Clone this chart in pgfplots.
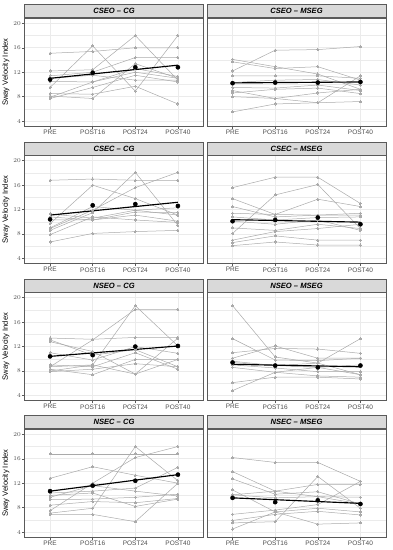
\documentclass[border=0pt]{standalone}
\usepackage{pgfplots}
\pgfplotsset{compat=1.18}
\usepackage{pgfplotstable}
\usepackage{fontspec}
\setmainfont{Liberation Sans}
\setsansfont{Liberation Sans}
\definecolor{subjgray}{RGB}{170,170,170}
\definecolor{gridgray}{RGB}{235,235,235}
\definecolor{bordergray}{RGB}{90,90,90}
\definecolor{stripfill}{RGB}{217,217,217}
\definecolor{ticklab}{RGB}{77,77,77}

% rows: time points (1=PRE,2=POST16,3=POST24,4=POST40); columns: subjects, m = mean
\pgfplotstableread{
t s1 s2 s3 s4 s5 s6 s7 s8 s9 s10 m
1 15.1 9.5 12.2 11.4 8.1 10.5 7.7 8.5 11.0 7.9 10.8
2 15.4 16.3 12.4 12.0 7.7 10.4 9.5 8.4 11.5 10.4 11.9
3 16.0 8.9 18.0 14.4 13.4 12.6 11.5 9.7 10.7 12.0 12.8
4 16.0 18.0 10.7 14.4 11.0 11.3 10.4 6.8 10.7 11.0 12.8
}\tA
\pgfplotstableread{
t s1 s2 s3 s4 s5 s6 s7 s8 s9 s10 m
1 12.2 14.1 13.7 11.4 10.3 9.5 8.6 8.0 5.5 9.0 10.2
2 15.6 12.9 12.6 11.4 10.7 9.4 9.2 7.7 6.8 7.7 10.3
3 15.7 11.7 12.9 11.4 10.8 9.9 9.4 8.6 7.0 7.0 10.3
4 16.2 9.2 10.7 11.0 9.9 9.0 8.5 9.2 7.2 11.4 10.4
}\tB
\pgfplotstableread{
t s1 s2 s3 s4 s5 s6 s7 s8 s9 s10 m
1 16.8 9.7 8.6 8.9 11.3 10.8 10.3 6.7 7.9 9.0 10.4
2 17.0 16.0 11.5 11.9 10.6 10.3 10.3 8.1 10.8 12.5 12.7
3 16.8 13.8 18.1 15.6 11.9 11.6 11.1 8.4 10.3 11.9 12.9
4 16.8 11.1 9.4 18.1 12.3 11.5 10.1 8.6 9.9 11.1 12.6
}\tC
\pgfplotstableread{
t s1 s2 s3 s4 s5 s6 s7 s8 s9 s10 s11 m
1 15.6 8.1 13.8 12.5 11.4 10.8 10.1 9.0 7.0 6.6 6.1 10.1
2 17.3 14.4 11.2 10.8 11.2 10.3 9.6 8.6 8.4 7.7 6.7 10.3
3 17.3 16.1 13.7 11.1 11.1 10.7 10.3 9.6 8.9 7.0 6.2 10.7
4 13.0 8.9 12.5 11.4 11.1 10.8 8.6 8.9 9.6 7.0 6.2 9.6
}\tD
\pgfplotstableread{
t s1 s2 s3 s4 s5 s6 s7 s8 s9 s10 m
1 13.4 8.7 8.0 12.8 13.1 11.0 9.0 8.3 7.9 8.7 10.4
2 13.2 13.1 9.0 11.2 10.6 9.8 8.7 7.4 8.3 9.0 10.6
3 13.5 18.1 18.7 7.5 11.5 12.0 11.0 9.9 9.2 7.5 12.0
4 13.5 18.1 12.1 9.9 8.7 10.9 8.3 9.9 8.7 13.4 12.1
}\tE
\pgfplotstableread{
t s1 s2 s3 s4 s5 s6 s7 s8 s9 s10 m
1 18.7 13.3 11.0 10.1 9.6 9.0 8.6 6.1 4.8 9.4 9.4
2 10.3 9.8 11.7 12.1 8.9 8.5 7.8 7.0 7.8 8.9 8.9
3 9.3 9.7 11.6 10.1 8.6 7.9 7.2 7.0 8.6 9.3 8.6
4 7.4 10.1 10.9 10.1 9.0 7.9 7.0 6.7 7.4 13.3 8.9
}\tF
\pgfplotstableread{
t s1 s2 s3 s4 s5 s6 s7 s8 s9 s10 m
1 16.8 12.8 7.1 7.5 10.4 9.7 9.3 8.4 6.9 10.0 10.7
2 16.8 14.7 7.9 12.0 10.7 11.6 9.4 9.0 6.9 10.4 11.6
3 16.8 13.3 18.0 16.2 11.2 10.7 9.7 8.8 5.7 8.2 12.4
4 16.8 12.0 12.4 18.0 14.6 9.9 10.2 9.5 12.0 9.4 13.4
}\tG
\pgfplotstableread{
t s1 s2 s3 s4 s5 s6 s7 s8 s9 s10 m
1 16.2 13.9 12.7 5.5 10.1 6.9 10.9 5.9 4.5 10.1 9.6
2 15.4 10.7 10.2 5.7 9.6 7.6 7.3 6.9 7.3 10.7 8.9
3 15.4 11.8 10.6 13.1 9.8 8.5 7.9 7.4 5.3 9.8 9.2
4 12.3 11.8 8.6 7.9 9.7 12.3 7.3 6.8 5.5 8.6 8.6
}\tH

\pgfplotsset{
  panel/.style={
    scale only axis, width=179pt, height=108.4pt,
    xmin=0.4, xmax=4.6, ymin=3.13, ymax=20.87,
    xtick={1,2,3,4}, xticklabels={PRE,POST16,POST24,POST40},
    ytick={4,8,12,16,20}, minor ytick={6,10,14,18},
    grid=both,
    major grid style={draw=gridgray, line width=0.55pt},
    minor grid style={draw=gridgray, line width=0.3pt},
    axis line style={draw=bordergray, line width=0.6pt},
    tick pos=left, tick align=outside,
    major tick length=2.5pt, minor tick length=0pt,
    tick style={draw=bordergray, line width=0.5pt},
    tick label style={font=\fontsize{6.5}{7}\selectfont, text=ticklab},
    xticklabel style={inner sep=1pt, anchor=north},
    yticklabel style={inner sep=1pt, anchor=east},
    every axis title/.style={at={(0.5,1)}, anchor=south, fill=stripfill,
      draw=bordergray, line width=0.6pt, minimum width=179pt, minimum height=13pt,
      inner sep=0pt, font=\fontsize{7.6}{8}\selectfont\bfseries\itshape},
    every axis y label/.style={at={(axis description cs:-0.1034,0.5)}, rotate=90,
      anchor=center, font=\fontsize{7.6}{8}\selectfont},
  },
  subj/.style={color=subjgray, line width=0.5pt, mark=*, mark size=1.05pt,
    mark options={fill=subjgray, draw=subjgray, line width=0pt}},
  fitline/.style={black, line width=1.15pt, no marks},
  meanpt/.style={black, only marks, mark=*, mark size=2.1pt},
  leftcol/.style={ylabel={Sway Velocity Index}},
  rightcol/.style={yticklabels={}, ytick style={draw=none}},
}

\newcommand{\panel}[7]{%
  \begin{axis}[panel, at={(#1)}, anchor=south west, title={#4}, #7]
    \pgfplotsinvokeforeach{1,...,#3}{\addplot[subj] table[x=t,y=s##1]{#2};}
    \addplot[fitline] coordinates {#5};
    \addplot[meanpt] table[x=t,y=m]{#2};
  \end{axis}}

\begin{document}
\begin{tikzpicture}
\useasboundingbox (0,0) rectangle (392pt,550pt);
\panel{24.5pt,423.6pt}{\tA}{10}{CSEO – CG}{(1,11.0) (4,13.15)}{}{leftcol}
\panel{207pt,423.6pt}{\tB}{10}{CSEO – MSEG}{(1,10.25) (4,10.4)}{}{rightcol}
\panel{24.5pt,286.2pt}{\tC}{10}{CSEC – CG}{(1,11.1) (4,13.2)}{}{leftcol}
\panel{207pt,286.2pt}{\tD}{11}{CSEC – MSEG}{(1,10.35) (4,9.95)}{}{rightcol}
\panel{24.5pt,149.2pt}{\tE}{10}{NSEO – CG}{(1,10.4) (4,12.1)}{}{leftcol}
\panel{207pt,149.2pt}{\tF}{10}{NSEO – MSEG}{(1,9.1) (4,8.7)}{}{rightcol}
\panel{24.5pt,12.6pt}{\tG}{10}{NSEC – CG}{(1,10.7) (4,13.4)}{}{leftcol}
\panel{207pt,12.6pt}{\tH}{10}{NSEC – MSEG}{(1,9.6) (4,8.7)}{}{rightcol}
\end{tikzpicture}
\end{document}
